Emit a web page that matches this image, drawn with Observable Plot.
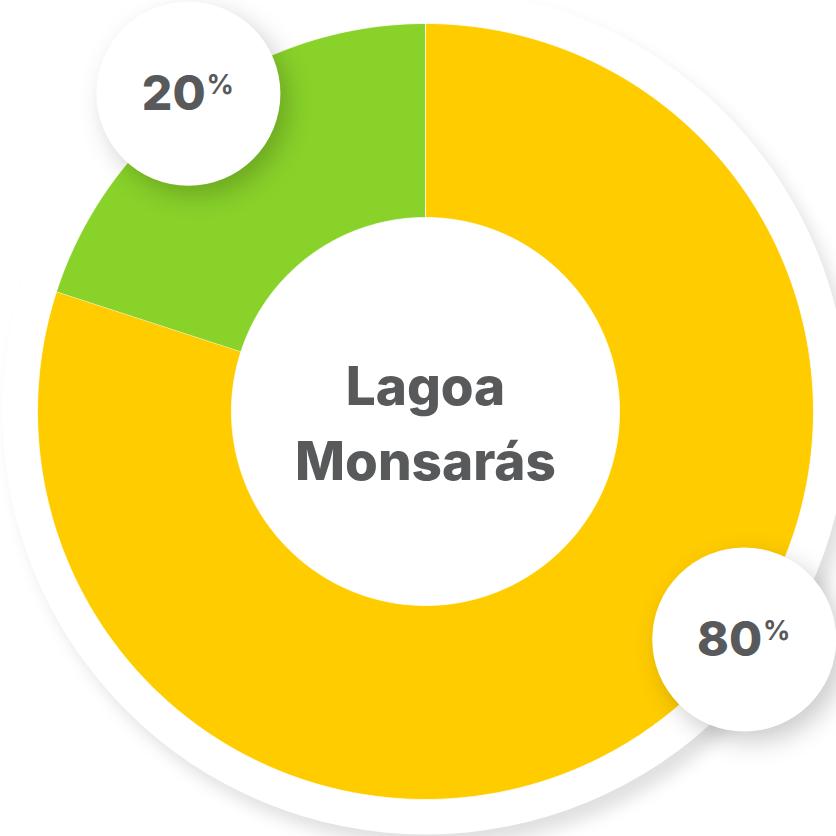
<!DOCTYPE html>
<html><head><meta charset="utf-8">
<script src="https://cdn.jsdelivr.net/npm/d3@7"></script>
<script src="https://cdn.jsdelivr.net/npm/@observablehq/plot@0.6"></script>
<style>
html,body{margin:0;padding:0;background:#fff;overflow:hidden}
#chart svg{display:block}
</style></head><body><div id="chart"></div>
<script>
// ---- data ----
const categories = ["Segmento A", "Segmento B"];
const values = [80, 20];
const colors = ["#FFCC00", "#88D22A"];
const valueLabels = ["80", "20"];
const centerLabel = ["Lagoa", "Monsarás"];

// ---- layout constants ----
const W = 836, H = 836;
const cx = 425, cy = 411, R = 388;          // pixel center & outer radius
const innerRatio = 0.5;
const labelRadius = [1.01, 1.022];
const labelFrac = [0.436, 0.49];            // where along each slice its bubble sits
const textColor = "#58595b";
const font = "Inter, 'Open Sans', sans-serif";
const numSize = 48, pctSize = 27, numWeight = 800, pctWeight = 700;

const pie = d3.pie().sort(null).value(d => d.value).startAngle(0).endAngle(2 * Math.PI);
const table = categories.map((c, i) => ({category: c, value: values[i], color: colors[i], label: valueLabels[i]}));
const arcs = pie(table);

// polygon outline for each slice (geometry only)
const slicePts = [];
arcs.forEach((a, i) => {
  const n = 240;
  const outer = d3.range(n + 1).map(k => a.startAngle + (a.endAngle - a.startAngle) * k / n);
  outer.forEach(t => slicePts.push({k: i, x: Math.sin(t), y: Math.cos(t)}));
  outer.slice().reverse().forEach(t => slicePts.push({k: i, x: innerRatio * Math.sin(t), y: innerRatio * Math.cos(t)}));
});

const labels = arcs.map((a, i) => {
  const t = a.startAngle + (a.endAngle - a.startAngle) * labelFrac[i];
  return {x: labelRadius[i] * Math.sin(t), y: labelRadius[i] * Math.cos(t), label: a.data.label};
});

// measure text to center "NN%" as a whole in its bubble
const ctx = document.createElement("canvas").getContext("2d");
function tw(s, size, weight) { ctx.font = `${weight} ${size}px ${font}`; return ctx.measureText(s).width; }

const x0 = -cx / R, x1 = (W - cx) / R;
const yTop = cy / R, yBot = -(H - cy) / R;

const labelMarks = labels.flatMap(l => {
  const w = tw(l.label, numSize, numWeight), p = tw("%", pctSize, pctWeight);
  const start = -(w + p) / 2 - 1;
  return [
    Plot.text([l], {x: "x", y: "y", text: "label", textAnchor: "start", dx: start, dy: 1, fontSize: numSize, fontWeight: numWeight, fill: textColor, fontFamily: font}),
    Plot.text([l], {x: "x", y: "y", text: () => "%", textAnchor: "start", dx: start + w + 1, dy: -8, fontSize: pctSize, fontWeight: pctWeight, fill: textColor, fontFamily: font})
  ];
});

const plot = Plot.plot({
  width: W, height: H,
  margin: 0,
  x: {domain: [x0, x1], axis: null},
  y: {domain: [yBot, yTop], axis: null},
  marks: [
    Plot.dot([{x: 0, y: 0}], {x: "x", y: "y", r: 423, fill: "white", stroke: "none"}),
    ...arcs.map((a, i) => Plot.line(slicePts.filter(p => p.k === i), {x: "x", y: "y", fill: colors[i], stroke: "white", strokeWidth: 0.8, curve: "linear"})),
    Plot.dot(labels, {x: "x", y: "y", r: 92, fill: "white", stroke: "none"}),
    ...labelMarks,
    Plot.text([{x: 0, y: 0}], {x: "x", y: "y", text: () => centerLabel.join("\n"), lineHeight: 1.42, dy: 7, fontSize: 53, fontWeight: 800, fill: textColor, fontFamily: font})
  ]
});
document.getElementById("chart").appendChild(plot);
const dots = plot.querySelectorAll('g[aria-label="dot"]');
dots[0].querySelectorAll("circle").forEach(c => c.style.filter = "drop-shadow(9px 12px 8px rgba(0,0,0,0.12))");
dots[1].querySelectorAll("circle").forEach(c => c.style.filter = "drop-shadow(8px 10px 12px rgba(0,0,0,0.2))");
</script></body></html>
